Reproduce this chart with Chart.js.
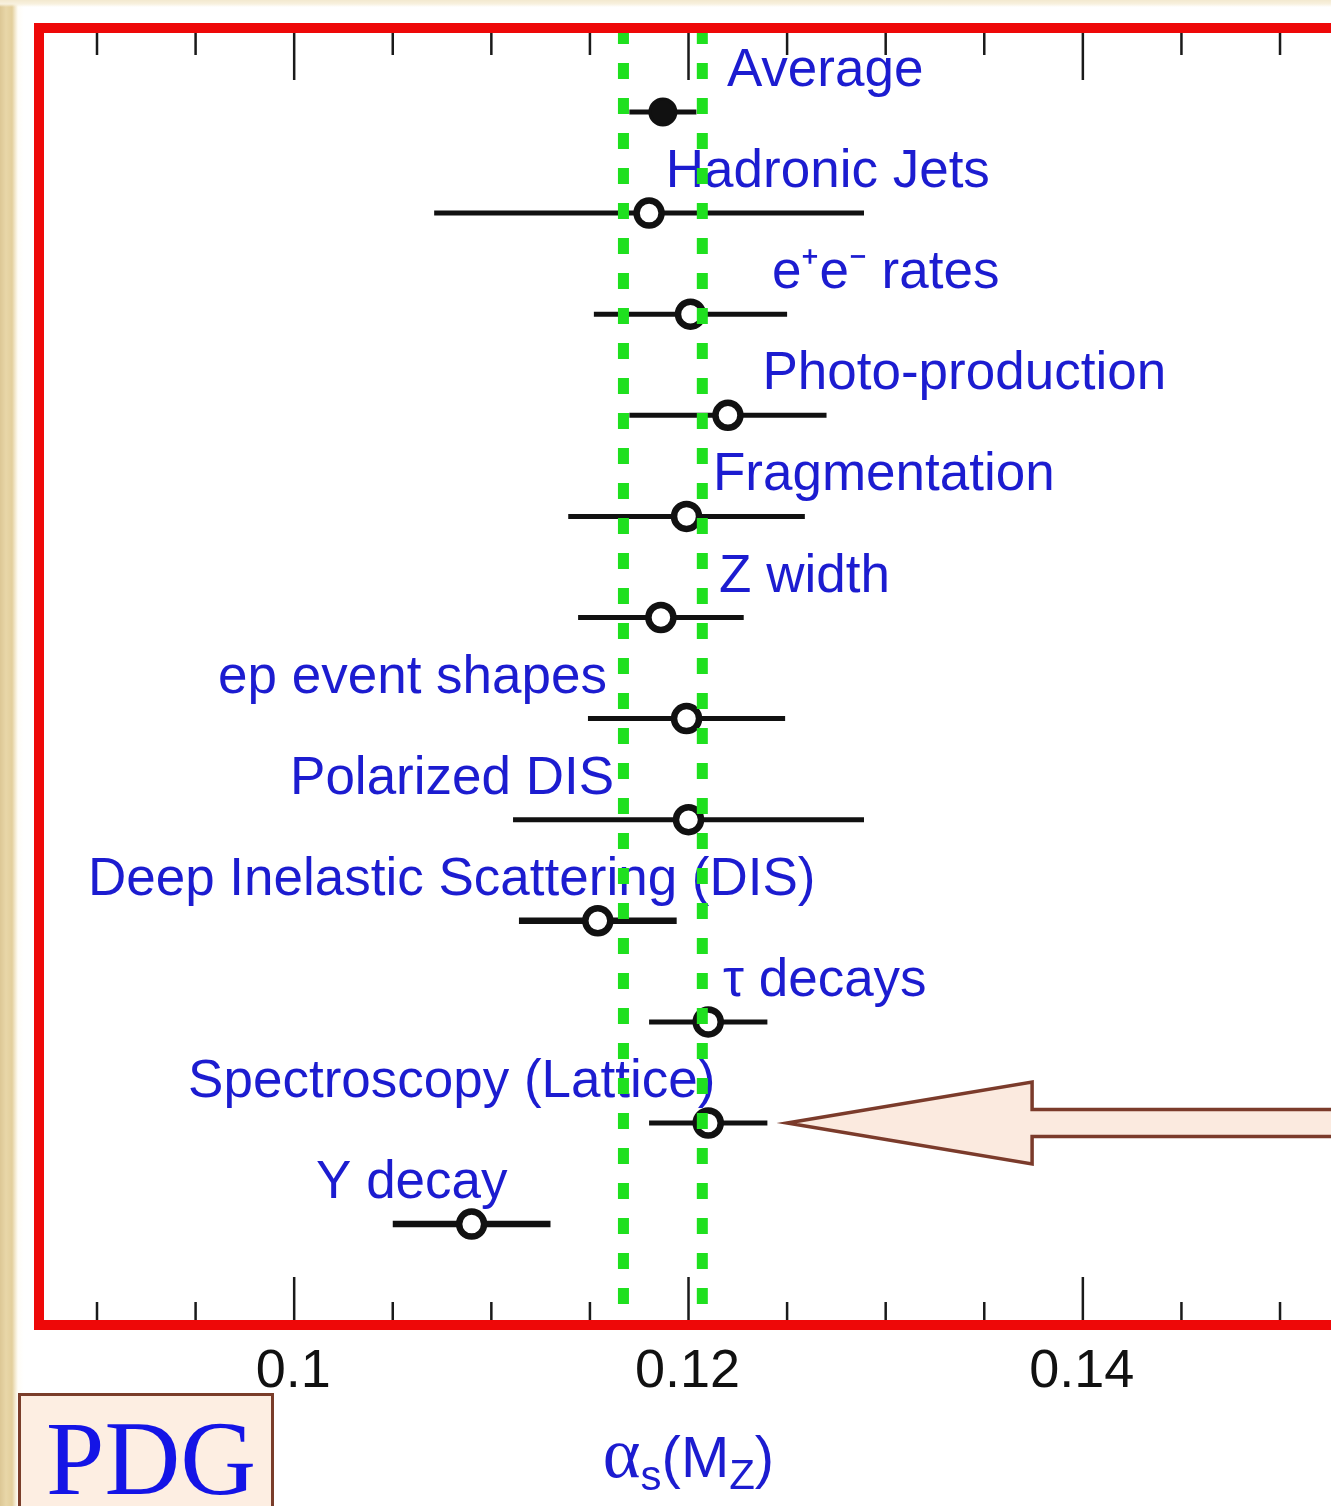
<!DOCTYPE html>
<html>
<head>
<meta charset="utf-8">
<title>alpha_s(MZ) summary</title>
<script src="https://cdn.jsdelivr.net/npm/chart.js@4.4.1/dist/chart.umd.min.js"></script>
<style>
  html, body { margin: 0; padding: 0; background: #fff; overflow: hidden; }
  body { width: 1331px; height: 1506px; position: relative; }
  #paper {
    position: absolute; left: 0; top: 0; width: 1331px; height: 1506px;
    background:
      linear-gradient(to bottom, #f3e9cf 0, #f8f1df 4px, rgba(255,255,255,0) 7px),
      linear-gradient(to right, #dcc795 0, #e8d6a8 6px, #e3cf9c 12px, #f3e8cc 15px, #fffdf7 18px, #fff 24px);
  }
  #wrap { position: absolute; left: 0; top: 0; width: 1336px; height: 1506px; }
  #alphaChart { width: 1336px; height: 1506px; display: block; }
  #pdg {
    position: absolute; left: 18px; top: 1393px; width: 250px; height: 130px;
    background: #fdeee2; border: 3px solid #7a3d2a;
    font-family: "Liberation Serif", "Times New Roman", serif;
    font-size: 105px; line-height: 1; color: #1414e6;
  }
  #pdg span { position: absolute; left: 25px; top: 10px; }
</style>
</head>
<body>
<div id="paper"></div>
<div id="wrap"><canvas id="alphaChart" width="1336" height="1506"></canvas></div>
<div id="pdg"><span>PDG</span></div>
<script>
// measurements, top to bottom
const categories = ['Average', 'Hadronic Jets', 'e\u207Ae\u207B rates', 'Photo-production', 'Fragmentation',
  'Z width', 'ep event shapes', 'Polarized DIS', 'Deep Inelastic Scattering (DIS)', '\u03C4 decays',
  'Spectroscopy (Lattice)', '\u03A5 decay'];
const alphaValues = [0.1187, 0.1180, 0.1201, 0.1220, 0.1199, 0.1186, 0.1199, 0.1200, 0.1154, 0.1210, 0.1210, 0.1090];
const alphaErrors = [0.0017, 0.0109, 0.0049, 0.0050, 0.0060, 0.0042, 0.0050, 0.0089, 0.0040, 0.0030, 0.0030, 0.0040];
// where each label starts (alpha_s units)
const labelStart = [0.12195, 0.11885, 0.12423, 0.12375, 0.12124, 0.12155, 0.09614, 0.09979, 0.08954, 0.12175, 0.09462, 0.10111];
// world average band
const averageBand = [0.1167, 0.1207];
const majorTicks = [0.10, 0.12, 0.14];
const tickLabels = ['0.1', '0.12', '0.14'];
const minorTicks = [0.09, 0.095, 0.105, 0.11, 0.115, 0.125, 0.13, 0.135, 0.145, 0.15];
const arrowTip = 0.1250; // arrow points at the lattice result
const arrowRow = 10;

const X_MIN = 0.087058, X_MAX = 0.152839;
const Y_MIN = -0.831, Y_MAX = 11.998;

const blue = '#1c1cd0';

const datasets = [];

// green dotted band lines (drawn on top)
averageBand.forEach(v => {
  datasets.push({
    type: 'line',
    data: [{ x: v, y: Y_MIN }, { x: v, y: Y_MAX }],
    borderColor: '#1fe01f',
    borderWidth: 11,
    borderDash: [16, 19],
    borderCapStyle: 'butt',
    pointRadius: 0,
    order: 0
  });
});

// open circles for the individual measurements
datasets.push({
  type: 'scatter',
  data: alphaValues.slice(1).map((v, i) => ({ x: v, y: i + 1 })),
  pointRadius: 12.5,
  pointBorderWidth: 6.5,
  pointBackgroundColor: '#ffffff',
  pointBorderColor: '#111111',
  order: 1
});

// filled circle for the average
datasets.push({
  type: 'scatter',
  data: [{ x: alphaValues[0], y: 0 }],
  pointRadius: 13,
  pointBorderWidth: 3,
  pointBackgroundColor: '#111111',
  pointBorderColor: '#111111',
  order: 1
});

// horizontal error bars
alphaValues.forEach((v, i) => {
  datasets.push({
    type: 'line',
    data: [{ x: v - alphaErrors[i], y: i }, { x: v + alphaErrors[i], y: i }],
    borderColor: '#111111',
    borderWidth: (i === 8 || i === 11) ? 6.5 : 5,
    borderCapStyle: 'butt',
    pointRadius: 0,
    order: 2
  });
});

const labelsPlugin = {
  id: 'labels',
  beforeDatasetsDraw(chart) {
    const { ctx, scales: { x, y } } = chart;
    ctx.save();
    ctx.font = '53px "Liberation Sans", Arial, sans-serif';
    ctx.fillStyle = blue;
    ctx.textAlign = 'left';
    ctx.textBaseline = 'alphabetic';
    categories.forEach((name, i) => {
      ctx.fillText(name, x.getPixelForValue(labelStart[i]), y.getPixelForValue(i) - 26);
    });
    ctx.restore();
  }
};

const framePlugin = {
  id: 'frame',
  afterDraw(chart) {
    const { ctx, chartArea: a, scales: { x, y } } = chart;
    ctx.save();

    // inward ticks, top and bottom
    ctx.strokeStyle = '#1a1a1a';
    ctx.lineWidth = 2.5;
    const tick = (v, len) => {
      const px = x.getPixelForValue(v);
      ctx.beginPath();
      ctx.moveTo(px, a.top); ctx.lineTo(px, a.top + len + 2);
      ctx.moveTo(px, a.bottom); ctx.lineTo(px, a.bottom - len + 2);
      ctx.stroke();
    };
    minorTicks.forEach(v => tick(v, 25));
    majorTicks.forEach(v => tick(v, 50));

    // red frame
    ctx.strokeStyle = '#ee0808';
    ctx.lineWidth = 10;
    ctx.strokeRect(a.left, a.top, a.right - a.left, a.bottom - a.top);

    // tick labels
    ctx.fillStyle = '#111111';
    ctx.font = '54px "Liberation Sans", Arial, sans-serif';
    ctx.textAlign = 'center';
    ctx.textBaseline = 'alphabetic';
    majorTicks.forEach((v, i) => ctx.fillText(tickLabels[i], x.getPixelForValue(v) - 1, 1387));

    // axis title: alpha_s(M_Z)
    const parts = [
      { t: '\u03B1', f: '72px "Liberation Serif", serif', dy: 0 },
      { t: 's', f: '42px "Liberation Sans", Arial, sans-serif', dy: 13 },
      { t: '(M', f: '58px "Liberation Sans", Arial, sans-serif', dy: 0 },
      { t: 'Z', f: '42px "Liberation Sans", Arial, sans-serif', dy: 12 },
      { t: ')', f: '58px "Liberation Sans", Arial, sans-serif', dy: 0 }
    ];
    let total = 0;
    parts.forEach(p => { ctx.font = p.f; p.w = ctx.measureText(p.t).width; total += p.w; });
    let cx = x.getPixelForValue(0.12) - total / 2;
    ctx.fillStyle = blue;
    ctx.textAlign = 'left';
    parts.forEach(p => {
      ctx.font = p.f;
      ctx.fillText(p.t, cx, 1477 + p.dy);
      cx += p.w;
    });

    // big outlined arrow pointing at the lattice point
    const tx = x.getPixelForValue(arrowTip);
    const ty = y.getPixelForValue(arrowRow);
    const headLen = 245, headHalf = 41, shaftHalf = 13.5;
    ctx.beginPath();
    ctx.moveTo(tx, ty);
    ctx.lineTo(tx + headLen, ty - headHalf);
    ctx.lineTo(tx + headLen, ty - shaftHalf);
    ctx.lineTo(a.right + 20, ty - shaftHalf);
    ctx.lineTo(a.right + 20, ty + shaftHalf);
    ctx.lineTo(tx + headLen, ty + shaftHalf);
    ctx.lineTo(tx + headLen, ty + headHalf);
    ctx.closePath();
    ctx.fillStyle = '#fbeadf';
    ctx.fill();
    ctx.strokeStyle = '#7b3b2b';
    ctx.lineWidth = 3.5;
    ctx.lineJoin = 'miter';
    ctx.stroke();

    ctx.restore();
  }
};

new Chart(document.getElementById('alphaChart').getContext('2d'), {
  type: 'scatter',
  data: { datasets: datasets },
  options: {
    responsive: false,
    animation: false,
    layout: { autoPadding: false, padding: { left: 39, top: 28, right: 0, bottom: 181 } },
    plugins: { legend: { display: false }, tooltip: { enabled: false } },
    scales: {
      x: { type: 'linear', min: X_MIN, max: X_MAX, display: false },
      y: { type: 'linear', min: Y_MIN, max: Y_MAX, reverse: true, display: false }
    }
  },
  plugins: [labelsPlugin, framePlugin]
});
</script>
</body>
</html>
